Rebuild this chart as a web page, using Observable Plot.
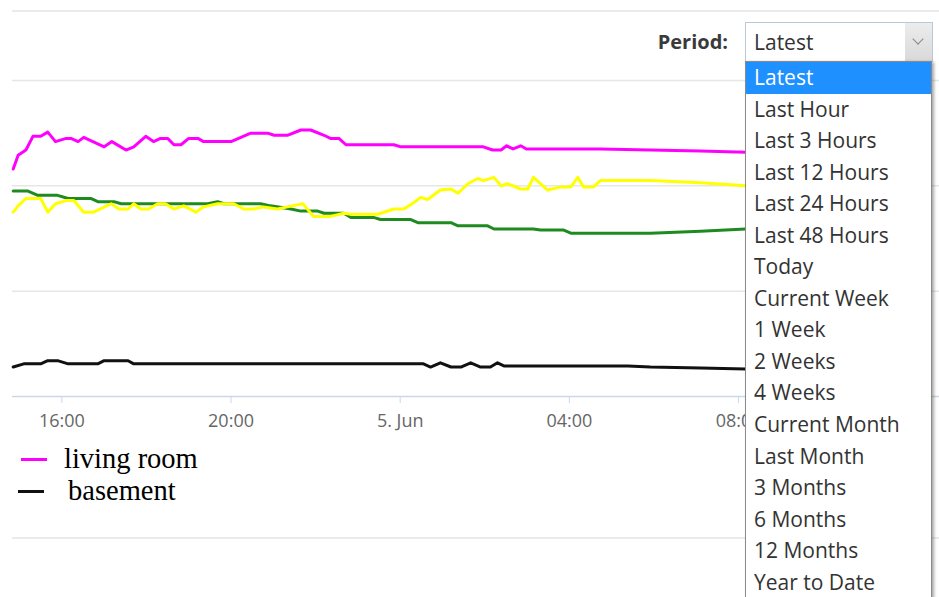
<!DOCTYPE html>
<html>
<head>
<meta charset="utf-8">
<script src="https://cdn.jsdelivr.net/npm/d3@7"></script>
<script src="https://cdn.jsdelivr.net/npm/@observablehq/plot@0.6"></script>
<style>
html, body { margin: 0; padding: 0; background: #fff; }
#wrap { position: relative; width: 939px; height: 597px; overflow: hidden; font-family: "Open Sans", sans-serif; }
#chart { position: absolute; left: 0; top: 0; }
.hr { position: absolute; left: 12px; right: 0; height: 2px; background: #ebebeb; }
.leg { position: absolute; font-family: "Liberation Serif", "Times New Roman", serif; font-size: 28.5px; color: #000; line-height: 32px; white-space: nowrap; }
.dash { position: absolute; height: 3px; }
#plabel { position: absolute; right: 211px; top: 29px; font-size: 20px; font-weight: bold; color: #3a3a3a; line-height: 26px; }
#select { position: absolute; left: 745px; top: 22px; width: 186px; height: 38px; border: 1px solid #b9c7d8; background: #fff; box-sizing: content-box; }
#select .val { position: absolute; left: 8px; top: 0; line-height: 38px; font-size: 21px; color: #333; }
#select .btn { position: absolute; right: 0; top: 0; width: 27px; height: 38px; background: linear-gradient(#ececec, #d9d9d9); }
#select .chev { position: absolute; left: 9px; top: 12px; width: 7px; height: 7px; border-right: 1.5px solid #888; border-bottom: 1.5px solid #888; transform: rotate(45deg); }
#list { position: absolute; left: 745px; top: 61px; width: 185px; height: 560px; border: 1px solid #8a8a8a; background: #fff; box-shadow: 2px 1px 3px rgba(0,0,0,0.35); }
#list div { height: 31.56px; line-height: 31.56px; padding-left: 8px; font-size: 21px; color: #333; white-space: nowrap; }
#list div.sel { background: #1e90ff; color: #fff; }
</style>
</head>
<body>
<div id="wrap">
  <div class="hr" style="top:10px"></div>
  <div id="chart"></div>
  <div class="hr" style="top:537px"></div>
  <div id="legend"></div>
  <div id="plabel">Period:</div>
  <div id="select"><span class="val"></span><div class="btn"><div class="chev"></div></div></div>
  <div id="list"></div>
</div>
<script>
// ---- data ----
const seriesNames = ["sensor green", "sensor yellow", "living room", "basement"];
const seriesColors = ["#1f8a1f", "#ffff00", "#ff00ff", "#111111"];
const legendNames = ["living room", "basement"];
const legendColors = ["#ff00ff", "#111111"];

const greenTimes = ["06-04 14:51","06-04 15:12","06-04 15:26","06-04 15:54","06-04 16:09","06-04 16:41","06-04 16:51","06-04 17:14","06-04 17:24","06-04 19:27","06-04 19:41","06-04 19:50","06-04 20:42","06-04 20:56","06-04 21:25","06-04 21:39","06-04 22:03","06-04 22:12","06-04 22:40","06-04 22:50","06-04 23:22","06-04 23:32","06-05 00:15","06-05 00:25","06-05 01:12","06-05 01:22","06-05 02:04","06-05 02:13","06-05 03:09","06-05 03:19","06-05 03:52","06-05 04:02","06-05 05:55","06-05 07:06","06-05 08:10"];
const greenValues = [19.5,19.5,19.1,19.1,18.8,18.8,18.5,18.5,18.3,18.3,18.5,18.3,18.3,18.1,17.8,17.6,17.6,17.4,17.4,17.0,17.0,16.8,16.8,16.5,16.5,16.2,16.2,15.9,15.9,15.8,15.8,15.5,15.5,15.7,15.9];

const yellowTimes = ["06-04 14:51","06-04 14:58","06-04 15:09","06-04 15:30","06-04 15:40","06-04 15:51","06-04 16:06","06-04 16:17","06-04 16:31","06-04 16:45","06-04 17:10","06-04 17:21","06-04 17:34","06-04 17:42","06-04 17:52","06-04 18:03","06-04 18:16","06-04 18:27","06-04 18:39","06-04 18:53","06-04 19:10","06-04 19:21","06-04 19:41","06-04 20:04","06-04 20:18","06-04 20:32","06-04 20:46","06-04 21:06","06-04 21:20","06-04 21:42","06-04 21:57","06-04 22:21","06-04 22:40","06-04 22:50","06-04 23:28","06-04 23:51","06-05 00:05","06-05 00:19","06-05 00:29","06-05 00:39","06-05 00:57","06-05 01:12","06-05 01:22","06-05 01:36","06-05 01:50","06-05 01:58","06-05 02:13","06-05 02:23","06-05 02:32","06-05 02:51","06-05 03:01","06-05 03:09","06-05 03:29","06-05 03:48","06-05 04:02","06-05 04:12","06-05 04:20","06-05 04:34","06-05 04:44","06-05 05:55","06-05 07:06","06-05 08:10"];
const yellowValues = [17.5,18.1,18.8,18.8,17.5,18.3,18.6,18.6,17.5,17.5,18.3,17.8,17.8,18.3,17.8,17.8,18.3,18.3,17.8,18.1,17.5,18.0,18.3,18.3,17.8,17.8,18.0,17.8,18.0,18.3,17.1,17.1,17.4,17.3,17.3,17.8,17.8,18.4,18.9,18.7,19.6,19.7,19.3,20.2,20.7,20.5,20.8,20.0,20.2,19.7,19.7,20.8,19.6,19.9,19.9,20.8,19.9,19.9,20.5,20.5,20.3,20.0];

const livingTimes = ["06-04 14:51","06-04 14:58","06-04 15:09","06-04 15:19","06-04 15:30","06-04 15:40","06-04 15:51","06-04 16:06","06-04 16:13","06-04 16:23","06-04 16:31","06-04 16:41","06-04 17:00","06-04 17:11","06-04 17:31","06-04 17:42","06-04 17:59","06-04 18:10","06-04 18:20","06-04 18:30","06-04 18:39","06-04 18:49","06-04 19:00","06-04 19:13","06-04 19:21","06-04 20:00","06-04 20:28","06-04 20:52","06-04 21:01","06-04 21:20","06-04 21:39","06-04 21:53","06-04 22:12","06-04 22:21","06-04 22:33","06-04 22:43","06-04 23:51","06-05 00:01","06-05 01:58","06-05 02:11","06-05 02:23","06-05 02:31","06-05 02:40","06-05 02:51","06-05 02:59","06-05 04:44","06-05 07:06","06-05 08:10"];
const livingValues = [21.6,22.9,23.4,24.7,24.7,25.1,24.2,24.5,24.5,24.2,24.6,24.3,23.7,24.2,23.4,23.7,24.7,24.2,24.5,24.5,23.9,23.9,24.5,24.5,24.2,24.2,25.0,25.0,24.8,24.8,25.3,25.3,24.8,24.5,24.5,23.9,23.9,23.7,23.7,23.4,23.4,23.8,23.5,23.8,23.5,23.5,23.3,23.2];

const basementTimes = ["06-04 14:51","06-04 15:06","06-04 15:30","06-04 15:40","06-04 15:54","06-04 16:09","06-04 16:51","06-04 17:00","06-04 17:34","06-04 17:42","06-05 00:33","06-05 00:43","06-05 00:57","06-05 01:12","06-05 01:26","06-05 01:40","06-05 01:54","06-05 02:08","06-05 02:18","06-05 02:27","06-05 05:23","06-05 05:55","06-05 07:06","06-05 08:10"];
const basementValues = [2.8,3.1,3.1,3.4,3.4,3.1,3.1,3.4,3.4,3.1,3.1,2.8,3.2,2.8,2.8,3.2,2.8,2.8,3.2,2.9,2.9,2.8,2.7,2.6];

const yGridValues = [10, 20, 30];
const xTickTimes = ["06-04 16:00","06-04 20:00","06-05 00:00","06-05 04:00","06-05 08:00"];
const xDomainTimes = ["06-04 14:50","06-05 12:45"];
const periodLabel = "Period:";
const periodOptions = ["Latest","Last Hour","Last 3 Hours","Last 12 Hours","Last 24 Hours","Last 48 Hours","Today","Current Week","1 Week","2 Weeks","4 Weeks","Current Month","Last Month","3 Months","6 Months","12 Months","Year to Date"];
const selectedPeriod = "Latest";

// ---- build ----
const parse = d3.timeParse("%Y-%m-%d %H:%M");
const T = s => parse("2017-" + s);
const rows = [];
function add(name, times, vals) { times.forEach((t, i) => rows.push({series: name, time: T(t), value: vals[i]})); }
add(seriesNames[0], greenTimes, greenValues);
add(seriesNames[1], yellowTimes, yellowValues);
add(seriesNames[2], livingTimes, livingValues);
add(seriesNames[3], basementTimes, basementValues);

const fmtH = d3.timeFormat("%H:%M"), fmtD = d3.timeFormat("%-d. %b");
const chart = Plot.plot({
  width: 939, height: 440,
  marginLeft: 12, marginRight: 0, marginTop: 80, marginBottom: 44,
  x: {type: "time", domain: xDomainTimes.map(T)},
  y: {domain: [0, 30], axis: null},
  color: {domain: seriesNames, range: seriesColors},
  style: {fontFamily: "'Open Sans', sans-serif", background: "transparent", overflow: "visible"},
  marks: [
    Plot.gridY(yGridValues, {stroke: "#e6e6e6", strokeOpacity: 1, strokeWidth: 1.5}),
    Plot.ruleY([0], {stroke: "#ccd6eb", strokeWidth: 1.5}),
    Plot.axisX(xTickTimes.map(T), {tickSize: 7, tickPadding: 11, stroke: "#ccd6eb", strokeOpacity: 1, fill: "#666", fontSize: 18, label: null,
      tickFormat: d => d.getHours() === 0 ? fmtD(d) : fmtH(d)}),
    Plot.line(rows, {x: "time", y: "value", z: "series", stroke: "series", strokeWidth: 3, strokeLinejoin: "round", strokeLinecap: "round"})
  ]
});
document.getElementById("chart").appendChild(chart);

// legend
const legend = document.getElementById("legend");
const legPos = [{dx: 21, tx: 64, y: 443}, {dx: 18, tx: 68, y: 475}];
legendNames.forEach((n, i) => {
  const dash = document.createElement("div");
  dash.className = "dash";
  dash.style.left = legPos[i].dx + "px"; dash.style.top = (legPos[i].y + 15) + "px";
  dash.style.width = "26px"; dash.style.background = legendColors[i];
  legend.appendChild(dash);
  const t = document.createElement("div");
  t.className = "leg"; t.textContent = n;
  t.style.left = legPos[i].tx + "px"; t.style.top = legPos[i].y + "px";
  legend.appendChild(t);
});

document.getElementById("plabel").textContent = periodLabel;
document.querySelector("#select .val").textContent = selectedPeriod;
const list = document.getElementById("list");
periodOptions.forEach(o => {
  const d = document.createElement("div");
  d.textContent = o;
  if (o === selectedPeriod) d.className = "sel";
  list.appendChild(d);
});
</script>
</body>
</html>
